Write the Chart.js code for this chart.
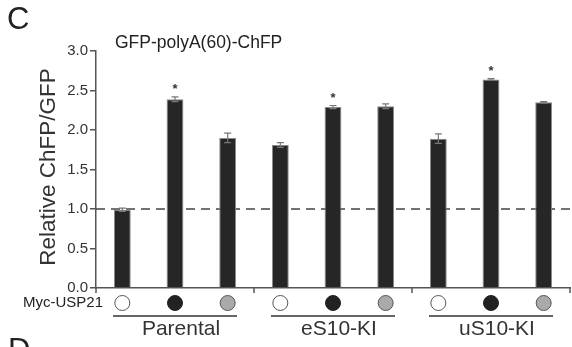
<!DOCTYPE html>
<html>
<head>
<meta charset="utf-8">
<script src="https://cdn.jsdelivr.net/npm/chart.js@4.4.1/dist/chart.umd.min.js"></script>
<style>
  html, body { margin: 0; padding: 0; background: #fff; }
  #wrap { width: 572px; height: 347px; position: relative; }
</style>
</head>
<body>
<div id="wrap"><canvas id="barChart"></canvas></div>
<script>
// data
const groups = ["Parental", "eS10-KI", "uS10-KI"];
const treatments = ["none", "wt", "mut"]; // open, black, grey circle
const categories = ["P-none", "P-wt", "P-mut", "e-none", "e-wt", "e-mut", "u-none", "u-wt", "u-mut"];
const values = [0.99, 2.39, 1.90, 1.81, 2.29, 2.30, 1.89, 2.64, 2.35];
const errors = [0.02, 0.03, 0.06, 0.03, 0.02, 0.03, 0.06, 0.01, 0.01];
const starred = [false, true, false, false, true, false, false, true, false];
const yTicks = [0, 0.5, 1, 1.5, 2, 2.5, 3];

const FONT = "'Liberation Sans', Arial, sans-serif";

// draws everything that Chart.js has no native element for
const figurePlugin = {
  id: "figure",
  beforeDatasetsDraw(chart) {
    const { ctx, chartArea, scales } = chart;
    const y1 = scales.y.getPixelForValue(1);
    ctx.save();
    ctx.strokeStyle = "#444";
    ctx.lineWidth = 1.5;
    ctx.setLineDash([9, 6]);
    ctx.beginPath();
    ctx.moveTo(chartArea.left, y1);
    ctx.lineTo(chart.width, y1);
    ctx.stroke();
    ctx.restore();
  },
  afterDatasetsDraw(chart) {
    const { ctx, chartArea, scales } = chart;
    const x = scales.x, y = scales.y;
    ctx.save();

    // error bars and stars
    values.forEach((v, i) => {
      const cx = x.getPixelForValue(i);
      const top = y.getPixelForValue(v + errors[i]);
      const bot = y.getPixelForValue(v - errors[i]);
      ctx.strokeStyle = "#777";
      ctx.lineWidth = 1.2;
      ctx.beginPath();
      ctx.moveTo(cx, top); ctx.lineTo(cx, bot);
      ctx.moveTo(cx - 3.5, top); ctx.lineTo(cx + 3.5, top);
      ctx.moveTo(cx - 3.5, bot); ctx.lineTo(cx + 3.5, bot);
      ctx.stroke();
      if (starred[i]) {
        ctx.fillStyle = "#333";
        ctx.font = "bold 13px " + FONT;
        ctx.textAlign = "center";
        ctx.textBaseline = "middle";
        ctx.fillText("*", cx, top - 7);
      }
    });

    // group separator ticks on the x axis
    const step = (chartArea.right - chartArea.left) / categories.length;
    ctx.strokeStyle = "#555";
    ctx.lineWidth = 1.5;
    for (let g = 0; g <= groups.length; g++) {
      const gx = chartArea.left + g * 3 * step;
      ctx.beginPath();
      ctx.moveTo(gx, chartArea.bottom);
      ctx.lineTo(gx, chartArea.bottom + 5);
      ctx.stroke();
    }

    // Myc-USP21 circles
    const rowY = 303;
    categories.forEach((c, i) => {
      const cx = x.getPixelForValue(i);
      const kind = treatments[i % 3];
      ctx.beginPath();
      ctx.arc(cx, rowY, 7.5, 0, Math.PI * 2);
      ctx.fillStyle = kind === "none" ? "#fff" : kind === "wt" ? "#222" : "#aaa";
      ctx.fill();
      ctx.lineWidth = 1;
      ctx.strokeStyle = kind === "wt" ? "#222" : "#555";
      ctx.stroke();
    });

    // group underlines and names
    groups.forEach((g, k) => {
      const mid = x.getPixelForValue(k * 3 + 1);
      ctx.strokeStyle = "#333";
      ctx.lineWidth = 1.5;
      ctx.beginPath();
      ctx.moveTo(mid - 62, 316);
      ctx.lineTo(mid + 62, 316);
      ctx.stroke();
      ctx.fillStyle = "#333";
      ctx.font = "21px " + FONT;
      ctx.textAlign = "center";
      ctx.textBaseline = "middle";
      ctx.fillText(g, mid + 6, 329);
    });

    // texts around the plot
    ctx.fillStyle = "#222";
    ctx.font = "15px " + FONT;
    ctx.textAlign = "right";
    ctx.textBaseline = "middle";
    ctx.fillText("Myc-USP21", 103, rowY);

    ctx.font = "17.5px " + FONT;
    ctx.textAlign = "left";
    ctx.fillText("GFP-polyA(60)-ChFP", 115, 43);

    ctx.font = "31px " + FONT;
    ctx.fillText("C", 7, 20);
    ctx.fillText("D", 8, 351);

    ctx.translate(49, 167);
    ctx.rotate(-Math.PI / 2);
    ctx.textAlign = "center";
    ctx.font = "22.5px " + FONT;
    ctx.fillStyle = "#333";
    ctx.fillText("Relative ChFP/GFP", 0, 0);
    ctx.restore();
  }
};

const ctx = document.getElementById("barChart").getContext("2d");
new Chart(ctx, {
  type: "bar",
  data: {
    labels: categories,
    datasets: [{
      data: values,
      backgroundColor: "#262626",
      borderColor: "#8a8a8a",
      borderWidth: 1,
      categoryPercentage: 1,
      barPercentage: 0.32,
    }],
  },
  options: {
    responsive: true,
    maintainAspectRatio: false,
    animation: false,
    layout: { padding: { top: 51, right: 2, left: 0, bottom: 0 } },
    plugins: {
      legend: { display: false },
      tooltip: { enabled: false },
    },
    scales: {
      x: {
        type: "category",
        grid: { display: false },
        border: { color: "#555", width: 1.5 },
        ticks: { display: false },
        afterFit(scale) { scale.height = 59; },
      },
      y: {
        min: 0,
        max: 3,
        afterBuildTicks(scale) { scale.ticks = yTicks.map(v => ({ value: v })); },
        ticks: {
          color: "#333",
          font: { size: 15, family: FONT },
          padding: 2,
          callback: v => v.toFixed(1),
        },
        grid: { drawOnChartArea: false, tickLength: 6, color: "#555", lineWidth: 1.5 },
        border: { color: "#555", width: 1.5 },
        afterFit(scale) { scale.width = 96; },
      },
    },
  },
  plugins: [figurePlugin],
});
</script>
</body>
</html>
